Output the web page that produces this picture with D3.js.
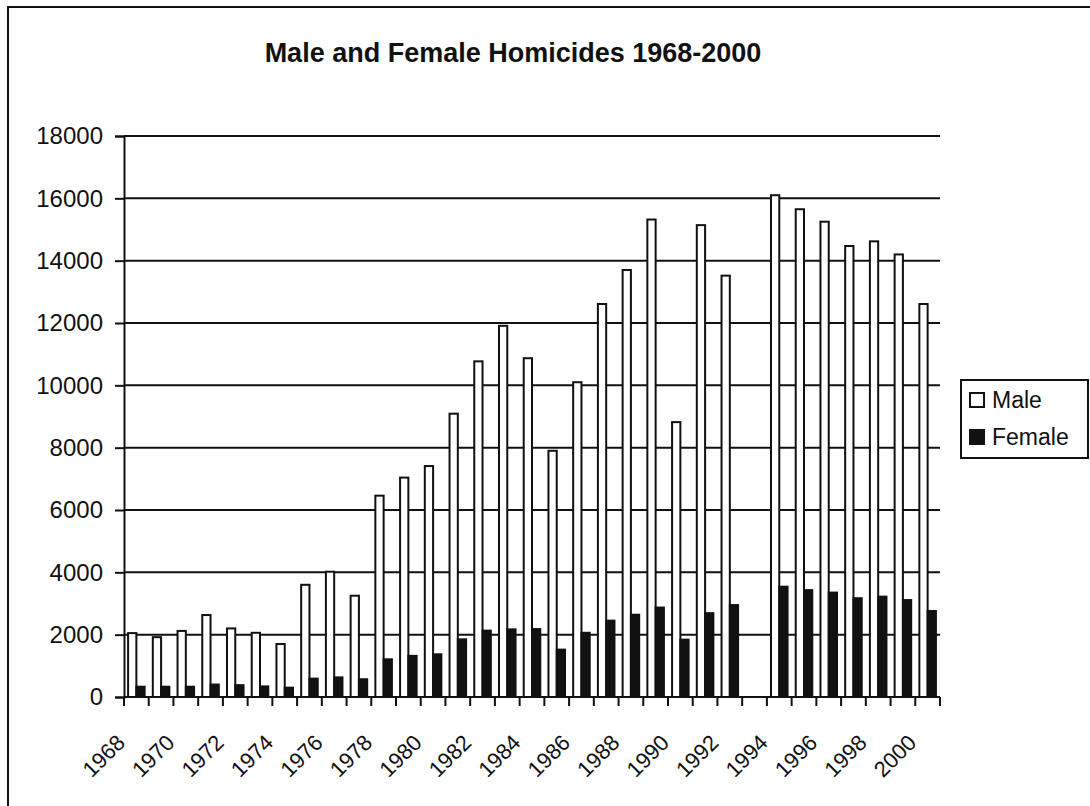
<!DOCTYPE html>
<html>
<head>
<meta charset="utf-8">
<script src="https://cdn.jsdelivr.net/npm/d3@7"></script>
<style>
  body { margin: 0; background: #fff; }
  text { font-family: "Liberation Sans", Arial, sans-serif; fill: #111; }
</style>
</head>
<body>
<div id="chart"></div>
<script>
var years = d3.range(1968, 2001);
// no data for 1993
var male = [2050, 1920, 2120, 2630, 2200, 2060, 1700, 3600, 4020, 3250,
  6460, 7040, 7410, 9090, 10770, 11910, 10870, 7900, 10100, 12610,
  13700, 15320, 8820, 15140, 13520, null, 16100, 15650, 15250, 14470,
  14620, 14200, 12610];
var female = [330, 330, 330, 400, 380, 340, 300, 590, 630, 570,
  1210, 1320, 1370, 1850, 2130, 2170, 2180, 1520, 2060, 2450,
  2640, 2870, 1840, 2690, 2950, null, 3540, 3430, 3350, 3170,
  3220, 3110, 2760];
var yTicks = d3.range(0, 18001, 2000);
var series = ["Male", "Female"];
var fills = { Male: "#fff", Female: "#111" };

function drawChart() {
  var width = 1090, height = 806;
  var pLeft = 124, pRight = 940, pTop = 136, pBottom = 697;

  var svg = d3.select("#chart").append("svg")
    .attr("width", width)
    .attr("height", height);

  // outer chart border
  svg.append("rect")
    .attr("x", 8).attr("y", 7)
    .attr("width", 1100).attr("height", 820)
    .attr("fill", "none").attr("stroke", "#111").attr("stroke-width", 2);

  svg.append("text")
    .attr("x", 513).attr("y", 62)
    .attr("text-anchor", "middle")
    .style("font-size", "27px").style("font-weight", "bold")
    .text("Male and Female Homicides 1968-2000");

  var x = d3.scaleBand()
    .domain(years)
    .range([pLeft, pRight])
    .paddingInner(0.33)
    .paddingOuter(0.165);

  var xs = d3.scaleBand()
    .domain(series)
    .range([0, x.bandwidth()]);

  var y = d3.scaleLinear()
    .domain([0, 18000])
    .range([pBottom, pTop]);

  // gridlines
  svg.append("g")
    .selectAll("line")
    .data(yTicks)
    .join("line")
    .attr("x1", pLeft).attr("x2", pRight)
    .attr("y1", d => y(d)).attr("y2", d => y(d))
    .attr("stroke", "#111").attr("stroke-width", 2);

  // y axis
  var yAxis = svg.append("g")
    .attr("transform", "translate(" + pLeft + ",0)")
    .call(d3.axisLeft(y).tickValues(yTicks).tickSize(9).tickPadding(12).tickFormat(d3.format("d")));
  yAxis.select(".domain").attr("stroke", "#111").attr("stroke-width", 2);
  yAxis.selectAll(".tick line").attr("stroke", "#111").attr("stroke-width", 2);
  yAxis.selectAll("text")
    .style("font-size", "24px")
    .style("font-family", "'Liberation Sans', Arial, sans-serif")
    .attr("fill", "#111");

  // bars
  var rows = years.map((yr, i) => ({ year: yr, Male: male[i], Female: female[i] }));
  var groups = svg.append("g")
    .selectAll("g")
    .data(rows)
    .join("g")
    .attr("transform", d => "translate(" + x(d.year) + ",0)");

  groups.selectAll("rect")
    .data(d => series.filter(s => d[s] != null).map(s => ({ key: s, value: d[s] })))
    .join("rect")
    .attr("x", d => xs(d.key))
    .attr("width", xs.bandwidth())
    .attr("y", d => y(d.value))
    .attr("height", d => y(0) - y(d.value))
    .attr("fill", d => fills[d.key])
    .attr("stroke", "#111")
    .attr("stroke-width", 2);

  // x axis line and ticks at category boundaries
  var half = (x.step() - x.bandwidth()) / 2;
  var bounds = years.map(yr => x(yr) - half).concat([pRight]);
  svg.append("line")
    .attr("x1", pLeft).attr("x2", pRight)
    .attr("y1", pBottom).attr("y2", pBottom)
    .attr("stroke", "#111").attr("stroke-width", 2);
  svg.append("g")
    .selectAll("line")
    .data(bounds)
    .join("line")
    .attr("x1", d => d).attr("x2", d => d)
    .attr("y1", pBottom).attr("y2", pBottom + 9)
    .attr("stroke", "#111").attr("stroke-width", 2);

  // x labels, every other year
  svg.append("g")
    .selectAll("text")
    .data(years.filter(yr => (yr - 1968) % 2 === 0))
    .join("text")
    .attr("text-anchor", "end")
    .attr("transform", d => "translate(" + (x(d) + x.bandwidth() / 2 - 10) + "," + (pBottom + 47) + ") rotate(-45)")
    .style("font-size", "22px")
    .text(d => d);

  // legend
  var lg = svg.append("g");
  lg.append("rect")
    .attr("x", 961).attr("y", 380)
    .attr("width", 127).attr("height", 78)
    .attr("fill", "#fff").attr("stroke", "#111").attr("stroke-width", 2);
  var item = lg.selectAll("g")
    .data(series)
    .join("g")
    .attr("transform", (d, i) => "translate(970," + (393 + i * 37) + ")");
  item.append("rect")
    .attr("width", 14).attr("height", 14)
    .attr("fill", d => fills[d]).attr("stroke", "#111").attr("stroke-width", 2);
  item.append("text")
    .attr("x", 22).attr("y", 15)
    .style("font-size", "23px")
    .text(d => d);
}

drawChart();
</script>
</body>
</html>
